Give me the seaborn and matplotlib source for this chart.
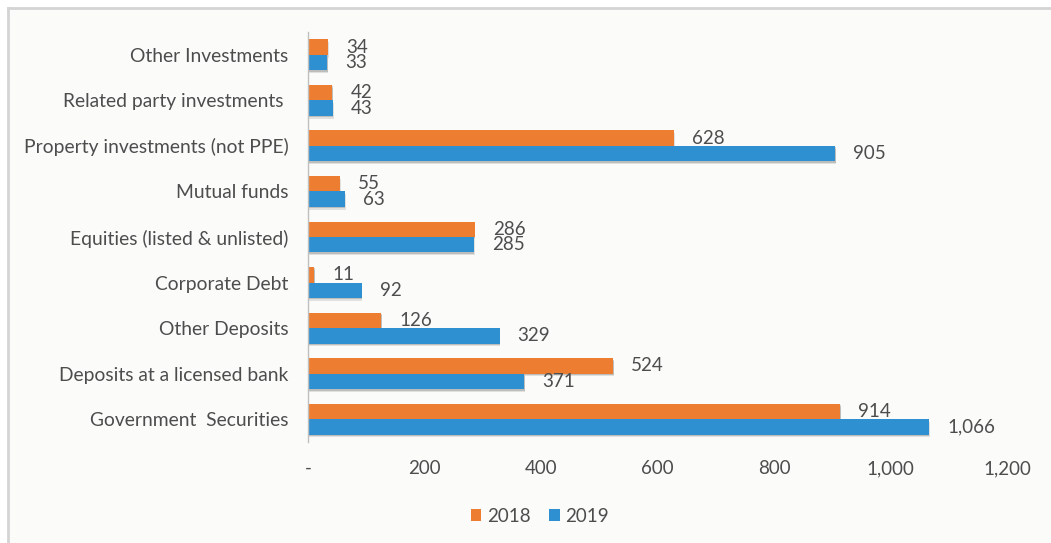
import matplotlib
matplotlib.use("Agg")
import matplotlib.pyplot as plt
import matplotlib.patheffects as pe
import seaborn as sns
import pandas as pd

categories = [
    "Other Investments",
    "Related party investments ",
    "Property investments (not PPE)",
    "Mutual funds",
    "Equities (listed & unlisted)",
    "Corporate Debt",
    "Other Deposits",
    "Deposits at a licensed bank",
    "Government  Securities",
]
values_2018 = [34, 42, 628, 55, 286, 11, 126, 524, 914]
values_2019 = [33, 43, 905, 63, 285, 92, 329, 371, 1066]
years = ["2018", "2019"]
x_ticks = [0, 200, 400, 600, 800, 1000, 1200]
x_tick_labels = ["-", "200", "400", "600", "800", "1,000", "1,200"]

colors = {"2018": "#ED7D31", "2019": "#2E8FD1"}
text_color = "#4D4D4D"
fs = 13.5

df = pd.DataFrame({
    "category": categories * 2,
    "year": [years[0]] * len(categories) + [years[1]] * len(categories),
    "value": values_2018 + values_2019,
})

sns.set_theme(style="white")
plt.rcParams["font.family"] = ["Lato", "DejaVu Sans"]

fig = plt.figure(figsize=(10.51, 5.43), dpi=100)
fig.patch.set_facecolor("white")

# light panel with a thin grey edge on the top and left
panel = fig.add_axes([8 / 1051, 0, 1 - 8 / 1051, 1 - 8 / 543])
panel.set_facecolor("#FBFBFA")
panel.set_xticks([])
panel.set_yticks([])
for side in ["right", "bottom"]:
    panel.spines[side].set_visible(False)
for side in ["top", "left"]:
    panel.spines[side].set_color("#D4D4D4")
    panel.spines[side].set_linewidth(2)
panel.set_zorder(0)

ax = fig.add_axes([308 / 1051, 1 - 442 / 543, (1007 - 308) / 1051, (442 - 32) / 543])
ax.set_zorder(1)
ax.patch.set_alpha(0)

sns.barplot(
    data=df, y="category", x="value", hue="year", order=categories,
    hue_order=years, palette=colors, orient="h", width=0.68,
    saturation=1, linewidth=0, ax=ax, legend=True,
)

# soft drop shadow under each bar
shadow = [
    pe.SimplePatchShadow(offset=(0.6, -2.0), shadow_rgbFace="#666666", alpha=0.18),
    pe.SimplePatchShadow(offset=(0.3, -1.0), shadow_rgbFace="#555555", alpha=0.25),
    pe.Normal(),
]
for container in ax.containers:
    for bar in container:
        bar.set_path_effects(shadow)
    labels = [f"{v:,.0f}" for v in container.datavalues]
    ax.bar_label(container, labels=labels, padding=13, fontsize=fs, color=text_color)

ax.set_xlim(0, 1200)
ax.set_xticks(x_ticks)
ax.set_xticklabels(x_tick_labels)
ax.set_xlabel("")
ax.set_ylabel("")
ax.tick_params(axis="x", length=0, pad=13, labelsize=fs, labelcolor=text_color)
ax.tick_params(axis="y", length=0, pad=14, labelsize=13.9, labelcolor=text_color)
for side in ["top", "right", "bottom"]:
    ax.spines[side].set_visible(False)
ax.spines["left"].set_color("#BFBFBF")
ax.spines["left"].set_linewidth(1)

handles, labels = ax.get_legend_handles_labels()
ax.legend(
    handles, labels, loc="center", bbox_to_anchor=(540 / 1051, 1 - 516 / 543),
    bbox_transform=fig.transFigure, ncol=2, frameon=False, fontsize=fs,
    handlelength=0.55, handleheight=0.55, handletextpad=0.3, columnspacing=1.0,
    labelcolor=text_color,
)

fig.savefig("out.png", dpi=100)
